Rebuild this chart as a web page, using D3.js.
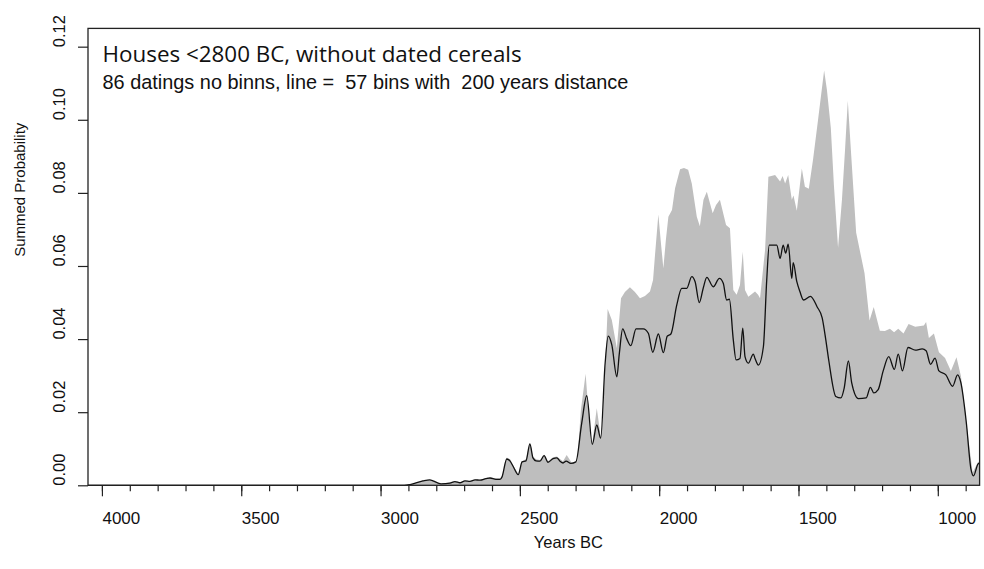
<!DOCTYPE html>
<html>
<head>
<meta charset="utf-8">
<script src="https://cdn.jsdelivr.net/npm/d3@7"></script>
<style>
    body { margin: 0; background: #fff; }
    svg { display: block; }
    text { font-family: "Liberation Sans", Arial, sans-serif; fill: #111; }
</style>
</head>
<body>
<svg id="chart" width="984" height="569"></svg>
<script>

// summed probability (grey area), years BC
const spdYears = [
    4050, 2923, 2894, 2848, 2823, 2797, 2783, 2751, 2733, 2715,
    2697, 2679, 2661, 2643, 2622, 2607, 2586, 2571, 2564, 2547,
    2535, 2523, 2506, 2492, 2478, 2464, 2453, 2442, 2428, 2413,
    2399, 2381, 2367, 2356, 2345, 2332, 2314, 2294, 2281, 2264,
    2246, 2240, 2224, 2210, 2202, 2185, 2170, 2152, 2137, 2123,
    2105, 2087, 2069, 2051, 2033, 2022, 2015, 2003, 1993, 1985,
    1976, 1967, 1954, 1943, 1925, 1911, 1896, 1883, 1865, 1854,
    1841, 1829, 1808, 1796, 1782, 1760, 1746, 1734, 1722, 1710,
    1700, 1692, 1680, 1656, 1645, 1638, 1620, 1608, 1584, 1566,
    1557, 1548, 1537, 1524, 1518, 1506, 1488, 1477, 1463, 1448,
    1430, 1408, 1398, 1384, 1373, 1358, 1344, 1333, 1323, 1312,
    1293, 1263, 1245, 1230, 1208, 1190, 1172, 1157, 1142, 1123,
    1105, 1081, 1050, 1042, 1032, 1014, 996, 974, 953, 933,
    917, 892, 875, 856, 850
];
const spdValues = [
    0, 0, 0.0002, 0.0013, 0.0016, 0.0008, 0.0004, 0.0008, 0.0011, 0.0009,
    0.0013, 0.0012, 0.0016, 0.0015, 0.002, 0.0021, 0.0019, 0.0019, 0.0025, 0.0076,
    0.0071, 0.0053, 0.0032, 0.0066, 0.0072, 0.0116, 0.0079, 0.0071, 0.0069, 0.0084,
    0.0066, 0.0077, 0.0079, 0.0072, 0.0066, 0.0083, 0.0062, 0.0065, 0.0206, 0.0305,
    0.0124, 0.0116, 0.0211, 0.0135, 0.0179, 0.0482, 0.0452, 0.0375, 0.0512, 0.0529,
    0.0542, 0.0529, 0.0512, 0.0518, 0.053, 0.0562, 0.063, 0.0741, 0.0657, 0.0594,
    0.0671, 0.0735, 0.0753, 0.0813, 0.0865, 0.0868, 0.0863, 0.0826, 0.0735, 0.0709,
    0.0781, 0.0803, 0.0744, 0.0767, 0.0781, 0.0712, 0.0703, 0.0534, 0.0521, 0.0548,
    0.0639, 0.0534, 0.0516, 0.053, 0.0521, 0.0512, 0.0644, 0.0844, 0.0849, 0.0831,
    0.0846, 0.0826, 0.0849, 0.0781, 0.0793, 0.0751, 0.0867, 0.0817, 0.0811, 0.089,
    0.0999, 0.1135, 0.1082, 0.0978, 0.0822, 0.065, 0.0781, 0.0917, 0.1052, 0.0917,
    0.0691, 0.058, 0.0451, 0.0488, 0.0423, 0.0422, 0.0428, 0.0419, 0.0428, 0.0415,
    0.0441, 0.0434, 0.0437, 0.0447, 0.0403, 0.0415, 0.0364, 0.0348, 0.0313, 0.035,
    0.0299, 0.0137, 0.0035, 0.0063, 0.0066
];

// binned curve (black line)
const binYears = [
    4050, 2915, 2894, 2848, 2823, 2797, 2783, 2751, 2733, 2715,
    2697, 2679, 2661, 2643, 2622, 2607, 2586, 2571, 2564, 2547,
    2535, 2523, 2506, 2492, 2478, 2464, 2453, 2442, 2428, 2413,
    2399, 2381, 2367, 2356, 2345, 2334, 2317, 2299, 2278, 2260,
    2240, 2224, 2210, 2194, 2183, 2170, 2152, 2143, 2131, 2117,
    2102, 2083, 2057, 2039, 2023, 2003, 1985, 1971, 1958, 1937,
    1919, 1901, 1883, 1871, 1856, 1842, 1829, 1806, 1784, 1770,
    1758, 1748, 1734, 1724, 1710, 1700, 1692, 1680, 1662, 1656,
    1644, 1626, 1614, 1605, 1578, 1566, 1555, 1546, 1537, 1524,
    1519, 1506, 1495, 1482, 1457, 1433, 1415, 1402, 1391, 1366,
    1348, 1336, 1321, 1309, 1285, 1257, 1242, 1230, 1214, 1196,
    1176, 1156, 1142, 1127, 1107, 1081, 1056, 1042, 1026, 1010,
    996, 971, 947, 929, 917, 898, 881, 872, 856, 850
];
const binValues = [
    0, 0, 0.0002, 0.0012, 0.0015, 0.0007, 0.0004, 0.0006, 0.001, 0.0007,
    0.0012, 0.0011, 0.0015, 0.0014, 0.0018, 0.002, 0.0016, 0.0016, 0.0023, 0.0072,
    0.0066, 0.005, 0.0029, 0.0064, 0.0067, 0.0113, 0.0075, 0.0067, 0.0066, 0.0081,
    0.0063, 0.0073, 0.0075, 0.0066, 0.0061, 0.0066, 0.006, 0.0064, 0.017, 0.0245,
    0.0112, 0.0165, 0.0129, 0.0334, 0.0408, 0.0384, 0.0297, 0.0361, 0.0428, 0.0402,
    0.0382, 0.0428, 0.0428, 0.0416, 0.0364, 0.0414, 0.0363, 0.0408, 0.0414, 0.0493,
    0.0539, 0.0539, 0.0571, 0.0557, 0.05, 0.0539, 0.0569, 0.0543, 0.0566, 0.0553,
    0.0507, 0.0509, 0.0398, 0.0343, 0.0347, 0.043, 0.0352, 0.0334, 0.0359, 0.0347,
    0.0329, 0.0379, 0.0562, 0.0657, 0.0657, 0.0621, 0.0657, 0.0635, 0.066, 0.0566,
    0.0609, 0.0557, 0.053, 0.0507, 0.0517, 0.0488, 0.0458, 0.0398, 0.034, 0.0243,
    0.0239, 0.0266, 0.034, 0.028, 0.0237, 0.0239, 0.0268, 0.0253, 0.0262, 0.0313,
    0.0352, 0.0317, 0.0359, 0.0313, 0.0377, 0.037, 0.0373, 0.0368, 0.0331, 0.0348,
    0.0313, 0.0302, 0.0271, 0.0302, 0.028, 0.0174, 0.0044, 0.0026, 0.0058, 0.0061
];

const xMajorTicks = [4000, 3500, 3000, 2500, 2000, 1500, 1000];
const xMinorTicks = d3.range(4000, 899, -100);
const yTicks = [0, 0.02, 0.04, 0.06, 0.08, 0.10, 0.12];

const titleText = "Houses <2800 BC, without dated cereals";
const subtitleText = "86 datings no binns, line =  57 bins with  200 years distance";
const xLabel = "Years BC";
const yLabel = "Summed Probability";

const svg = d3.select("#chart");
const margin = { top: 28.4, right: 4.4, bottom: 83.7, left: 88 };
const width = 984 - margin.left - margin.right;
const height = 569 - margin.top - margin.bottom;

const x = d3.scaleLinear().domain([4050, 850]).range([margin.left, margin.left + width]);
const y = d3.scaleLinear().domain([0, 0.125]).range([margin.top + height, margin.top]);

const spd = spdYears.map((yr, i) => ({ year: yr, value: spdValues[i] }));
const bins = binYears.map((yr, i) => ({ year: yr, value: binValues[i] }));

const area = d3.area()
    .x(d => x(d.year))
    .y0(y(0))
    .y1(d => y(d.value));

const line = d3.line()
    .curve(d3.curveMonotoneX)
    .x(d => x(d.year))
    .y(d => y(d.value));

svg.append("path")
    .datum(spd)
    .attr("fill", "#bebebe")
    .attr("d", area);

svg.append("path")
    .datum(bins)
    .attr("fill", "none")
    .attr("stroke", "#111")
    .attr("stroke-width", 1.3)
    .attr("stroke-linejoin", "round")
    .attr("d", line);

// box round the plot
svg.append("rect")
    .attr("x", margin.left)
    .attr("y", margin.top)
    .attr("width", width)
    .attr("height", height)
    .attr("fill", "none")
    .attr("stroke", "#222")
    .attr("stroke-width", 1.3);

// x axis: minor ticks, then major ticks with labels starting at the tick
svg.append("g")
    .attr("transform", "translate(0," + y(0) + ")")
    .call(d3.axisBottom(x).tickValues(xMinorTicks).tickSize(6).tickFormat(""))
    .call(g => g.select(".domain").remove())
    .call(g => g.selectAll("line").attr("stroke", "#222").attr("stroke-width", 1.2));

svg.append("g")
    .attr("transform", "translate(0," + y(0) + ")")
    .call(d3.axisBottom(x).tickValues(xMajorTicks).tickSize(11).tickFormat(d3.format("d")))
    .call(g => g.select(".domain").remove())
    .call(g => g.selectAll("line").attr("stroke", "#222").attr("stroke-width", 1.2))
    .call(g => g.selectAll("text")
        .attr("x", 0).attr("y", 38.4).attr("dy", null)
        .attr("text-anchor", "start")
        .style("font-family", "'Liberation Sans', Arial, sans-serif")
        .style("font-size", "17px")
        .attr("fill", "#111"));

svg.append("g")
    .attr("transform", "translate(" + margin.left + ",0)")
    .call(d3.axisLeft(y).tickValues(yTicks).tickSize(10).tickFormat(d3.format(".2f")))
    .call(g => g.select(".domain").remove())
    .call(g => g.selectAll("line").attr("stroke", "#222").attr("stroke-width", 1.2))
    .call(g => g.selectAll("text")
        .attr("x", 0).attr("dy", null)
        .attr("transform", "translate(-23,0) rotate(-90)")
        .attr("text-anchor", "start")
        .style("font-family", "'Liberation Sans', Arial, sans-serif")
        .style("font-size", "16.5px")
        .attr("fill", "#111"));

// axis titles
svg.append("text")
    .attr("x", margin.left + width / 2)
    .attr("y", 548)
    .attr("font-size", 16.5)
    .text(xLabel);

svg.append("text")
    .attr("transform", "translate(24.5," + (margin.top + height / 2) + ") rotate(-90)")
    .attr("font-size", 15)
    .text(yLabel);

// title lines inside the box
svg.append("text")
    .attr("x", 102.5)
    .attr("y", 62)
    .style("font-family", "'Open Sans', 'Noto Sans', sans-serif")
    .attr("font-size", 22.4)
    .attr("fill", "#2b2b2b")
    .text(titleText);

svg.append("text")
    .attr("x", 102.5)
    .attr("y", 89)
    .attr("font-size", 19.9)
    .attr("xml:space", "preserve")
    .style("white-space", "pre")
    .text(subtitleText);

</script>
</body>
</html>
